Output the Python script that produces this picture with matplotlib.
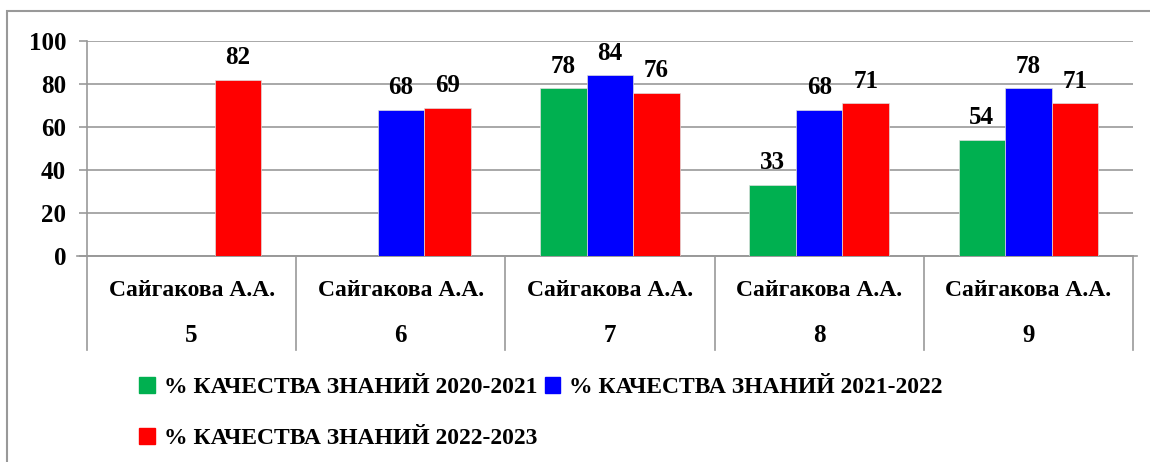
import matplotlib.pyplot as plt
from matplotlib.patches import Rectangle
from matplotlib.lines import Line2D
import numpy as np

plt.rcParams['font.family'] = ['Liberation Serif', 'DejaVu Serif']
plt.rcParams['font.weight'] = 'bold'

teacher = 'Сайгакова А.А.'
grades = ['5', '6', '7', '8', '9']
series_names = ['% КАЧЕСТВА ЗНАНИЙ 2020-2021',
                '% КАЧЕСТВА ЗНАНИЙ 2021-2022',
                '% КАЧЕСТВА ЗНАНИЙ 2022-2023']
q2020 = [np.nan, np.nan, 78, 33, 54]
q2021 = [np.nan, 68, 84, 68, 78]
q2022 = [82, 69, 76, 71, 71]
colors = ['#00b050', '#0000ff', '#ff0000']

W, H = 1150, 462
fig = plt.figure(figsize=(W / 100, H / 100), dpi=100)
fig.patches.append(Rectangle((7 / W, -0.1), 1.2, (H - 11) / H + 0.1,
                             transform=fig.transFigure, fill=False,
                             edgecolor='#999999', linewidth=1.5))

x0, x1, ytop, y0 = 87, 1133, 41, 256
ax = fig.add_axes([x0 / W, (H - y0) / H, (x1 - x0) / W, (y0 - ytop) / H])

x = np.arange(len(grades))
bw = 1 / 4.5
for k, vals in enumerate([q2020, q2021, q2022]):
    pos = x + (k - 1) * bw
    ax.bar(pos, vals, width=bw, color=colors[k], edgecolor='#dddddd',
           linewidth=0.5, zorder=3)
    for p, v in zip(pos, vals):
        if not np.isnan(v):
            ax.text(p, v + 5, str(int(v)), ha='center', va='bottom',
                    fontsize=18, fontweight='bold')

ax.set_xlim(-0.5, len(grades) - 0.5)
ax.set_ylim(0, 100)
ax.set_yticks([0, 20, 40, 60, 80, 100])
ax.tick_params(axis='y', labelsize=18, length=6, width=1.2, color='#999999', pad=9)
for lab in ax.get_yticklabels():
    lab.set_fontweight('bold')
ax.set_xticks([])
ax.grid(axis='y', color='#999999', linewidth=1.2, zorder=0)
for s in ['top', 'right']:
    ax.spines[s].set_visible(False)
ax.spines['left'].set_color('#999999')
ax.spines['left'].set_linewidth(1.2)
ax.spines['bottom'].set_color('#999999')
ax.spines['bottom'].set_linewidth(1.2)

# category table below the axis
tr = ax.get_xaxis_transform()
depth = -(350 - y0) / (y0 - ytop)
for b in np.arange(-0.5, len(grades), 1.0):
    ax.add_line(Line2D([b, b], [0, depth], transform=tr, color='#999999',
                       linewidth=1.2, clip_on=False))
ax.add_line(Line2D([-0.55, len(grades) - 0.48], [0, 0], transform=tr,
                   color='#999999', linewidth=1.2, clip_on=False))
for i, g in enumerate(grades):
    ax.text(i, -(290 - y0) / (y0 - ytop), teacher, transform=tr, ha='center',
            va='center', fontsize=17, fontweight='bold')
    ax.text(i, -(336 - y0) / (y0 - ytop), g, transform=tr, ha='center',
            va='center', fontsize=18, fontweight='bold')

handles = [Rectangle((0, 0), 1, 1, color=c) for c in colors]
order = [0, 2, 1]
fig.legend([handles[i] for i in order], [series_names[i] for i in order],
           ncol=2, loc='upper left', bbox_to_anchor=(118 / W, (H - 356) / H),
           frameon=False, handlelength=0.65, handleheight=0.65,
           handletextpad=0.4, columnspacing=0.3, labelspacing=1.25,
           prop={'size': 17, 'weight': 'bold'})

fig.savefig('out.png', dpi=100)
